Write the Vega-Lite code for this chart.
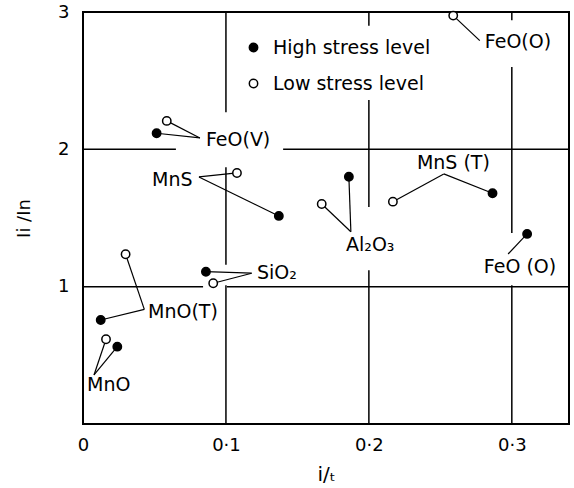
{
  "$schema": "https://vega.github.io/schema/vega-lite/v6.json",
  "width": 486,
  "height": 412,
  "autosize": {"type": "none"},
  "padding": {"left": 83, "top": 12, "right": 5, "bottom": 64},
  "background": "white",
  "config": {
    "font": "DejaVu Sans",
    "view": {"stroke": "black", "strokeWidth": 2},
    "axis": {"grid": false, "ticks": false, "domain": false, "labelFlush": false, "labelColor": "black", "titleColor": "black", "labelFontSize": 18, "titleFontSize": 18, "titleFontWeight": "normal"},
    "legend": {"labelFontSize": 19, "labelColor": "black", "symbolStrokeColor": "black", "symbolStrokeWidth": 1.5, "symbolSize": 70, "rowPadding": 16, "labelOffset": 10, "padding": 0}
  },
  "datasets": {
    "grid": [
      {"x": 0.1, "x2": 0.1, "y": 3, "y2": 2.27},
      {"x": 0.1, "x2": 0.1, "y": 1.87, "y2": 1.16},
      {"x": 0.1, "x2": 0.1, "y": 1.01, "y2": 0},
      {"x": 0.2, "x2": 0.2, "y": 3, "y2": 2.9},
      {"x": 0.2, "x2": 0.2, "y": 2.36, "y2": 1.58},
      {"x": 0.2, "x2": 0.2, "y": 1.12, "y2": 0},
      {"x": 0.3, "x2": 0.3, "y": 3, "y2": 2.94},
      {"x": 0.3, "x2": 0.3, "y": 2.6, "y2": 1.39},
      {"x": 0.3, "x2": 0.3, "y": 1.01, "y2": 0},
      {"x": 0, "x2": 0.065, "y": 2, "y2": 2},
      {"x": 0.14, "x2": 0.34, "y": 2, "y2": 2},
      {"x": 0, "x2": 0.084, "y": 1, "y2": 1},
      {"x": 0.1007, "x2": 0.34, "y": 1, "y2": 1}
    ],
    "points": [
      {"inclusion": "FeO(V)", "level": "High stress level", "x": 0.0515, "y": 2.117, "ax": 0.0818, "ay": 2.083},
      {"inclusion": "FeO(V)", "level": "Low stress level", "x": 0.0586, "y": 2.207, "ax": 0.0818, "ay": 2.083},
      {"inclusion": "MnS", "level": "High stress level", "x": 0.137, "y": 1.515, "ax": 0.0811, "ay": 1.799},
      {"inclusion": "MnS", "level": "Low stress level", "x": 0.1077, "y": 1.828, "ax": 0.0811, "ay": 1.799},
      {"inclusion": "Al2O3", "level": "High stress level", "x": 0.186, "y": 1.80, "ax": 0.1874, "ay": 1.40},
      {"inclusion": "Al2O3", "level": "Low stress level", "x": 0.167, "y": 1.602, "ax": 0.1874, "ay": 1.40},
      {"inclusion": "MnS(T)", "level": "High stress level", "x": 0.2865, "y": 1.68, "ax": 0.2524, "ay": 1.821},
      {"inclusion": "MnS(T)", "level": "Low stress level", "x": 0.2168, "y": 1.619, "ax": 0.2524, "ay": 1.821},
      {"inclusion": "MnO(T)", "level": "High stress level", "x": 0.0124, "y": 0.757, "ax": 0.0429, "ay": 0.835},
      {"inclusion": "MnO(T)", "level": "Low stress level", "x": 0.0298, "y": 1.236, "ax": 0.0429, "ay": 0.835},
      {"inclusion": "SiO2", "level": "High stress level", "x": 0.086, "y": 1.109, "ax": 0.118, "ay": 1.098},
      {"inclusion": "SiO2", "level": "Low stress level", "x": 0.0911, "y": 1.025, "ax": 0.118, "ay": 1.098},
      {"inclusion": "MnO", "level": "High stress level", "x": 0.024, "y": 0.563, "ax": 0.0077, "ay": 0.357},
      {"inclusion": "MnO", "level": "Low stress level", "x": 0.0161, "y": 0.617, "ax": 0.0077, "ay": 0.357},
      {"inclusion": "FeO(O)", "level": "High stress level", "x": 0.3107, "y": 1.384, "ax": 0.2974, "ay": 1.238},
      {"inclusion": "FeO(O)", "level": "Low stress level", "x": 0.259, "y": 2.974, "ax": 0.2776, "ay": 2.792}
    ],
    "labels": [
      {"text": "FeO(V)", "x": 0.086, "y": 2.068},
      {"text": "MnS", "x": 0.0483, "y": 1.777},
      {"text": "Al₂O₃", "x": 0.184, "y": 1.304},
      {"text": "MnS (T)", "x": 0.2336, "y": 1.901},
      {"text": "MnO(T)", "x": 0.0455, "y": 0.818},
      {"text": "SiO₂", "x": 0.1217, "y": 1.10},
      {"text": "MnO", "x": 0.0028, "y": 0.284},
      {"text": "FeO(O)", "x": 0.2811, "y": 2.784},
      {"text": "FeO (O)", "x": 0.2804, "y": 1.146}
    ]
  },
  "layer": [
    {
      "data": {"name": "grid"},
      "mark": {"type": "rule", "color": "black", "strokeWidth": 1.5},
      "encoding": {
        "x": {"field": "x", "type": "quantitative", "scale": {"domain": [0, 0.34], "nice": false, "zero": false},
          "axis": {"values": [0, 0.1, 0.2, 0.3], "labelExpr": "datum.value == 0 ? '0' : '0·' + round(datum.value * 10)", "labelPadding": 12, "title": "i/ₜ", "titlePadding": 10, "titleFontSize": 20}},
        "x2": {"field": "x2"},
        "y": {"field": "y", "type": "quantitative", "scale": {"domain": [0, 3], "nice": false, "zero": false},
          "axis": {"values": [1, 2, 3], "format": "d", "labelPadding": 14, "title": "Ii /In", "titlePadding": 24}},
        "y2": {"field": "y2"}
      }
    },
    {
      "data": {"name": "points"},
      "mark": {"type": "rule", "color": "black", "strokeWidth": 1.2},
      "encoding": {
        "x": {"field": "ax", "type": "quantitative"},
        "y": {"field": "ay", "type": "quantitative"},
        "x2": {"field": "x"},
        "y2": {"field": "y"}
      }
    },
    {
      "data": {"name": "points"},
      "mark": {"type": "point", "shape": "circle", "filled": true, "stroke": "black", "strokeWidth": 1.5, "size": 70, "opacity": 1},
      "encoding": {
        "x": {"field": "x", "type": "quantitative"},
        "y": {"field": "y", "type": "quantitative"},
        "fill": {"field": "level", "type": "nominal",
          "scale": {"domain": ["High stress level", "Low stress level"], "range": ["black", "white"]},
          "legend": {"title": null, "orient": "none", "legendX": 161, "legendY": 26}}
      }
    },
    {
      "data": {"name": "labels"},
      "mark": {"type": "text", "align": "left", "baseline": "middle", "fontSize": 19, "color": "black"},
      "encoding": {
        "x": {"field": "x", "type": "quantitative"},
        "y": {"field": "y", "type": "quantitative"},
        "text": {"field": "text"}
      }
    }
  ]
}
